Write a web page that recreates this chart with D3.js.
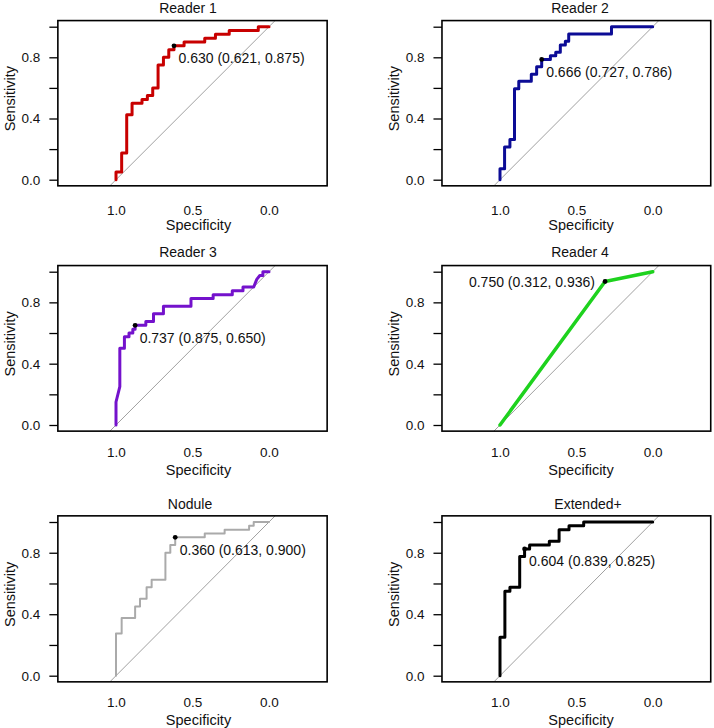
<!DOCTYPE html>
<html>
<head>
<meta charset="utf-8">
<script src="https://cdn.jsdelivr.net/npm/d3@7"></script>
<style>
  html, body { margin: 0; padding: 0; background: #fff; }
  svg { display: block; }
  text { font-family: "Liberation Sans", Arial, Helvetica, sans-serif; fill: #111; }
</style>
</head>
<body>
<svg id="chart" width="714" height="728"></svg>
<script>
// ---------------- DATA ----------------
const panelTitles = ["Reader 1", "Reader 2", "Reader 3", "Reader 4", "Nodule", "Extended+"];

// ROC curves as [specificity, sensitivity] vertices
const reader1 = [[1,0],[1,0.05],[0.963,0.05],[0.963,0.175],[0.93,0.175],[0.93,0.425],[0.895,0.425],[0.895,0.5],[0.83,0.5],[0.83,0.525],[0.795,0.525],[0.795,0.55],[0.76,0.55],[0.76,0.6],[0.725,0.6],[0.725,0.75],[0.69,0.75],[0.69,0.8],[0.655,0.8],[0.655,0.85],[0.621,0.85],[0.621,0.875],[0.555,0.875],[0.555,0.9],[0.42,0.9],[0.42,0.925],[0.35,0.925],[0.35,0.95],[0.26,0.95],[0.26,0.975],[0.07,0.975],[0.07,1],[0,1]];
const reader2 = [[1,0],[1,0.071],[0.97,0.071],[0.97,0.214],[0.935,0.214],[0.935,0.262],[0.905,0.262],[0.905,0.595],[0.877,0.595],[0.877,0.643],[0.795,0.643],[0.795,0.69],[0.76,0.69],[0.76,0.738],[0.727,0.738],[0.727,0.786],[0.67,0.786],[0.67,0.81],[0.635,0.81],[0.635,0.833],[0.605,0.833],[0.605,0.881],[0.572,0.881],[0.572,0.905],[0.55,0.905],[0.55,0.952],[0.27,0.952],[0.27,1],[0,1]];
const reader3 = [[1,0],[1,0.15],[0.975,0.25],[0.975,0.5],[0.945,0.5],[0.945,0.575],[0.915,0.575],[0.915,0.6],[0.89,0.6],[0.89,0.625],[0.875,0.625],[0.875,0.65],[0.805,0.65],[0.805,0.675],[0.755,0.675],[0.755,0.725],[0.69,0.725],[0.69,0.775],[0.51,0.775],[0.51,0.825],[0.365,0.825],[0.365,0.85],[0.24,0.85],[0.24,0.875],[0.17,0.875],[0.17,0.9],[0.1,0.9],[0.08,0.95],[0.06,0.975],[0.04,0.975],[0.04,1],[0,1]];
const reader4 = [[1,0],[0.312,0.936],[0,1]];
const nodule = [[1,0],[1,0.275],[0.963,0.275],[0.963,0.375],[0.875,0.375],[0.875,0.45],[0.843,0.45],[0.843,0.5],[0.8,0.5],[0.8,0.575],[0.767,0.575],[0.767,0.625],[0.677,0.625],[0.677,0.8],[0.645,0.8],[0.645,0.85],[0.613,0.85],[0.613,0.9],[0.42,0.9],[0.42,0.925],[0.29,0.925],[0.29,0.95],[0.13,0.95],[0.13,0.975],[0.1,0.975],[0.1,1],[0,1]];
const extendedPlus = [[1,0],[1,0.25],[0.968,0.25],[0.968,0.55],[0.935,0.55],[0.935,0.575],[0.871,0.575],[0.871,0.775],[0.839,0.775],[0.839,0.825],[0.806,0.825],[0.806,0.85],[0.677,0.85],[0.677,0.875],[0.613,0.875],[0.613,0.95],[0.548,0.95],[0.548,0.975],[0.452,0.975],[0.452,1],[0,1]];
const curves = [reader1, reader2, reader3, reader4, nodule, extendedPlus];

// Best thresholds: threshold, specificity, sensitivity
const bestThreshold = [0.630, 0.666, 0.737, 0.750, 0.360, 0.604];
const bestSpec      = [0.621, 0.727, 0.875, 0.312, 0.613, 0.839];
const bestSens      = [0.875, 0.786, 0.650, 0.936, 0.900, 0.825];

const curveColors = ["#c80000", "#0c0c96", "#7412cc", "#1ed21e", "#aaaaaa", "#000000"];

const xTickValues = [1.0, 0.5, 0.0];
const yTickValues = [0, 0.2, 0.4, 0.6, 0.8, 1.0];
const yTickLabels = ["0.0", "", "0.4", "", "0.8", ""];
const xAxisTitle = "Specificity";
const yAxisTitle = "Sensitivity";

// ---------------- LAYOUT ----------------
const svg = d3.select("#chart");
const colGeom = [
  { x1: 116, x0: 269, titleX: 188, xlabX: 198.5, ylabX: 9.5 },
  { x1: 500, x0: 652.7, titleX: 580, xlabX: 581, ylabX: 394 }
];
const rowGeom = [
  { y0: 179.7, unit: 153.0, titleY: 12.5, tickY: 215, xlabY: 230 },
  { y0: 425.0, unit: 153.3, titleY: 256.5, tickY: 456.5, xlabY: 475 },
  { y0: 675.7, unit: 153.7, titleY: 509, tickY: 706.5, xlabY: 725 }
];
const titleXAdjust = [0, 0, 0, 0, 2, 8];
const curveWidths = [3, 3, 3, 3.5, 2, 3];

panelTitles.forEach((title, i) => {
  const c = colGeom[i % 2], r = rowGeom[Math.floor(i / 2)];
  const unitX = c.x0 - c.x1;
  const x = d3.scaleLinear().domain([1, 0]).range([c.x1, c.x0]);
  const y = d3.scaleLinear().domain([0, 1]).range([r.y0, r.y0 - r.unit]);
  const xl = x(1.38), xr = x(-0.38), yt = y(1.04), yb = y(-0.04);

  const g = svg.append("g");
  const clipId = "clip" + i;
  svg.append("clipPath").attr("id", clipId)
    .append("rect").attr("x", xl).attr("y", yt).attr("width", xr - xl).attr("height", yb - yt);

  // diagonal
  g.append("line")
    .attr("clip-path", `url(#${clipId})`)
    .attr("x1", x(1.04)).attr("y1", y(-0.04))
    .attr("x2", x(-0.04)).attr("y2", y(1.04))
    .attr("stroke", "#a0a0a0").attr("stroke-width", 1);

  // ROC curve
  const line = d3.line().x(d => x(d[0])).y(d => y(d[1]));
  g.append("path")
    .datum(curves[i])
    .attr("clip-path", `url(#${clipId})`)
    .attr("d", line)
    .attr("fill", "none")
    .attr("stroke", curveColors[i])
    .attr("stroke-width", curveWidths[i])
    .attr("stroke-linejoin", "round")
    .attr("stroke-linecap", "round");

  // best threshold point
  const px = x(bestSpec[i]), py = y(bestSens[i]);
  g.append("circle").attr("cx", px).attr("cy", py).attr("r", 2.4).attr("fill", "#000");
  const label = `${bestThreshold[i].toFixed(3)} (${bestSpec[i].toFixed(3)}, ${bestSens[i].toFixed(3)})`;
  if (i === 3) {
    g.append("text").attr("x", px - 10).attr("y", py + 5.5)
      .attr("text-anchor", "end").attr("font-size", 14).text(label);
  } else {
    g.append("text").attr("x", px + 4.5).attr("y", py + 17.5)
      .attr("text-anchor", "start").attr("font-size", 14).text(label);
  }

  // box
  g.append("rect").attr("x", xl).attr("y", yt).attr("width", xr - xl).attr("height", yb - yt)
    .attr("fill", "none").attr("stroke", "#000").attr("stroke-width", 1.6);

  // y axis
  const yAxis = d3.axisLeft(y).tickValues(yTickValues).tickSize(8.5).tickPadding(9)
    .tickFormat((d, k) => yTickLabels[k]);
  const ya = g.append("g").attr("transform", `translate(${xl},0)`).call(yAxis);
  ya.select(".domain").remove();
  ya.selectAll(".tick line").attr("stroke", "#000").attr("stroke-width", 1.3);
  ya.selectAll(".tick text").attr("font-size", 13.5).attr("font-family", "Liberation Sans, Arial, sans-serif").attr("fill", "#111");

  // x axis labels (no tick marks)
  const xAxis = d3.axisBottom(x).tickValues(xTickValues).tickSize(0).tickPadding(0)
    .tickFormat(d3.format(".1f"));
  const xa = g.append("g").attr("transform", `translate(0,${r.tickY})`).call(xAxis);
  xa.select(".domain").remove();
  xa.selectAll(".tick text").attr("dy", 0).attr("font-size", 13.5)
    .attr("font-family", "Liberation Sans, Arial, sans-serif").attr("fill", "#111");

  // axis titles
  g.append("text").attr("x", c.xlabX).attr("y", r.xlabY).attr("text-anchor", "middle")
    .attr("font-size", 14.5).text(xAxisTitle);
  const ylc = y(0.5) - 4.5;
  g.append("text").attr("transform", `translate(${c.ylabX + 5},${ylc}) rotate(-90)`)
    .attr("text-anchor", "middle").attr("font-size", 14.5).text(yAxisTitle);

  // panel title
  g.append("text").attr("x", c.titleX + titleXAdjust[i]).attr("y", r.titleY).attr("text-anchor", "middle")
    .attr("font-size", 14).text(title);
});
</script>
</body>
</html>
